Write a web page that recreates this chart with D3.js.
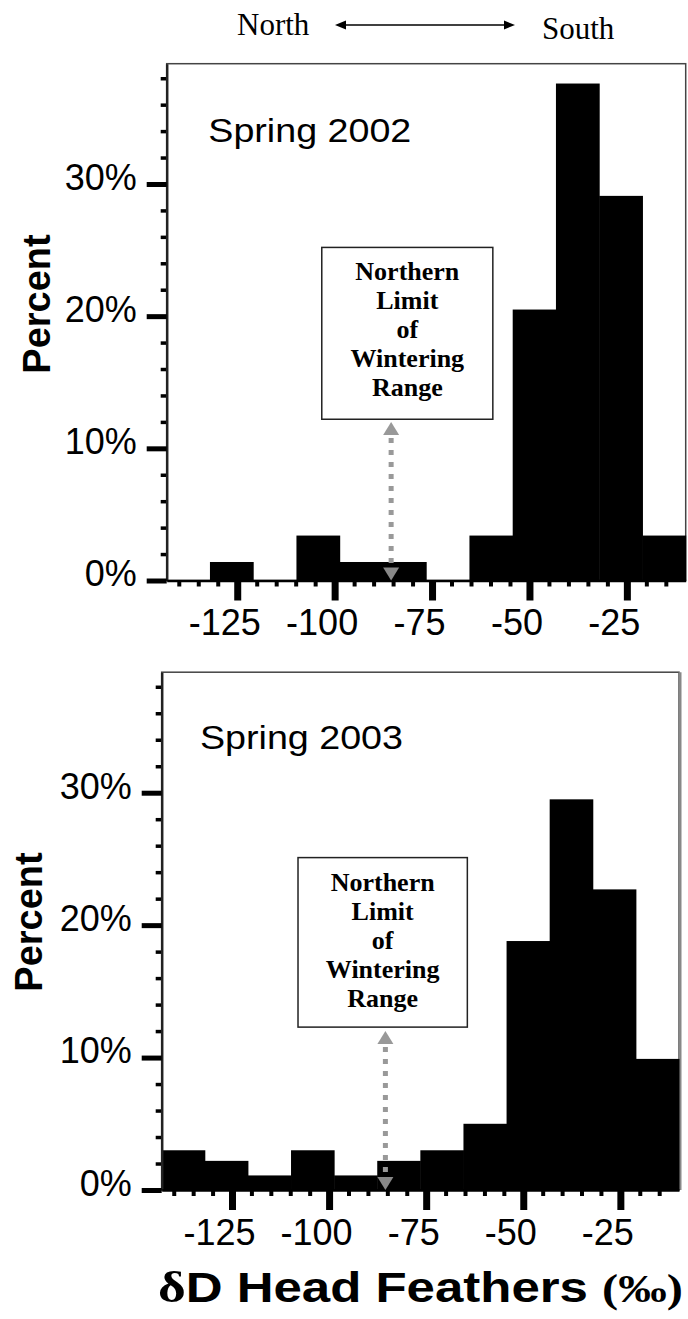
<!DOCTYPE html>
<html>
<head>
<meta charset="utf-8">
<script src="https://cdn.jsdelivr.net/npm/d3@7"></script>
<style>
  body { margin: 0; background: #fff; }
  svg { display: block; }
  .axis text { font-family: Arial, "Liberation Sans", sans-serif; font-size: 36px; fill: #000; }
  .panel-label { font-family: Arial, "Liberation Sans", sans-serif; font-size: 34px; }
  .y-title { font-family: Arial, "Liberation Sans", sans-serif; font-size: 38px; font-weight: bold; }
  .box-text { font-family: "Liberation Serif", "Times New Roman", serif; font-size: 26px; font-weight: bold; }
  .compass { font-family: "Liberation Serif", "Times New Roman", serif; font-size: 31px; }
</style>
</head>
<body>
<div id="chart"></div>
<script>
// Histogram bin edges (deltaD of head feathers, per mil)
var binEdges = [-143.1, -132, -120.9, -109.8, -98.7, -87.6, -76.5, -65.4, -54.3, -43.2, -32.1, -21, -9.9];

// Percent of birds per bin
var percent2002 = [0, 1.4, 0, 3.4, 1.4, 1.4, 0, 3.4, 20.5, 37.6, 29.1, 3.4];
var percent2003 = [3.0, 2.2, 1.1, 3.0, 1.1, 2.2, 3.0, 5.0, 18.8, 29.5, 22.7, 9.9];

// Tick labels
var xMajorTicks = [-125, -100, -75, -50, -25];
var xMinorTicks = [-140, -135, -130, -120, -115, -110, -105, -95, -90, -85, -80, -70, -65, -60, -55, -45, -40, -35, -30, -20, -15];
var yMajorTicks = [0, 10, 20, 30];
var yMinorTicks = [2, 4, 6, 8, 12, 14, 16, 18, 22, 24, 26, 28, 32, 34, 36, 38];

// Annotation
var limitLines = ["Northern", "Limit", "of", "Wintering", "Range"];
var limitValue = -85.5;
var limitTop = 12;

var width = 688;
var height = 1319;

var svg = d3
  .select("#chart")
  .append("svg")
  .attr("width", width)
  .attr("height", height);

var makeTranslate = (x, y) => `translate(${x},${y})`;

// Render one histogram panel.
function drawPanel(config) {
  var chartWidth = config.width;
  var chartHeight = config.height;

  var xScale = d3.scaleLinear().domain([binEdges[0], binEdges[binEdges.length - 1]]).range([0, chartWidth]);
  var yScale = d3.scaleLinear().domain([0, 39.1]).range([chartHeight, 0]);

  var chartElement = svg.append("g").attr("transform", makeTranslate(config.left, config.top));

  // frame
  chartElement
    .append("rect")
    .attr("width", chartWidth)
    .attr("height", chartHeight)
    .attr("fill", "none")
    .attr("stroke", "#444")
    .attr("stroke-width", 1.5);

  if (config.grayRight) {
    chartElement
      .append("line")
      .attr("x1", chartWidth + 1)
      .attr("x2", chartWidth + 1)
      .attr("y1", 0)
      .attr("y2", chartHeight)
      .attr("stroke", "#888")
      .attr("stroke-width", 3);
  }

  // bars
  chartElement
    .append("g")
    .attr("class", "bars")
    .selectAll("rect")
    .data(config.values)
    .enter()
    .append("rect")
    .attr("x", (d, i) => xScale(binEdges[i]))
    .attr("width", (d, i) => xScale(binEdges[i + 1]) - xScale(binEdges[i]) + 0.5)
    .attr("y", (d) => yScale(d))
    .attr("height", (d) => yScale(0) - yScale(d))
    .attr("fill", "#000");

  // Create D3 axes.
  var yAxis = d3
    .axisLeft(yScale)
    .tickValues(yMajorTicks)
    .tickSize(20)
    .tickSizeOuter(0)
    .tickPadding(10)
    .tickFormat((d) => d + "%");

  var yAxisMinor = d3.axisLeft(yScale).tickValues(yMinorTicks).tickSize(6).tickFormat("");

  var xAxis = d3
    .axisBottom(xScale)
    .tickValues(xMajorTicks)
    .tickSize(20)
    .tickSizeOuter(0)
    .tickPadding(9)
    .tickFormat((d) => d);

  var xAxisMinor = d3.axisBottom(xScale).tickValues(xMinorTicks).tickSize(6).tickFormat("");

  var yMinorElement = chartElement.append("g").attr("class", "y axis minor").call(yAxisMinor);
  yMinorElement.select(".domain").remove();
  yMinorElement.selectAll(".tick line").attr("stroke-width", 3.5);

  var yElement = chartElement.append("g").attr("class", "y axis").call(yAxis);
  yElement.select(".domain").attr("stroke", "#222").attr("stroke-width", 2.5);
  yElement.selectAll(".tick line").attr("stroke-width", 5);
  yElement.selectAll(".tick text").attr("dy", "0.15em");

  var xMinorElement = chartElement
    .append("g")
    .attr("class", "x axis minor")
    .attr("transform", makeTranslate(0, chartHeight))
    .call(xAxisMinor);
  xMinorElement.select(".domain").remove();
  xMinorElement.selectAll(".tick line").attr("stroke-width", 4);

  var xElement = chartElement
    .append("g")
    .attr("class", "x axis")
    .attr("transform", makeTranslate(0, chartHeight))
    .call(xAxis);
  xElement.select(".domain").attr("stroke-width", 2.5);
  xElement.selectAll(".tick line").attr("stroke-width", 7);
  xElement.selectAll(".tick text").attr("dx", -13);

  // y title
  chartElement
    .append("text")
    .attr("class", "y-title")
    .attr("transform", makeTranslate(config.titleX, config.titleY) + " rotate(-90)")
    .attr("text-anchor", "middle")
    .text("Percent");

  // panel label
  chartElement
    .append("text")
    .attr("class", "panel-label")
    .attr("x", config.labelX)
    .attr("y", config.labelY)
    .attr("textLength", 203)
    .attr("lengthAdjust", "spacingAndGlyphs")
    .text(config.label);

  // annotation box
  var box = config.box;
  var boxLeft = xScale(box[0]);
  var boxRight = xScale(box[1]);
  var boxTop = yScale(box[2]);
  var boxBottom = yScale(box[3]);

  chartElement
    .append("rect")
    .attr("x", boxLeft)
    .attr("y", boxTop)
    .attr("width", boxRight - boxLeft)
    .attr("height", boxBottom - boxTop)
    .attr("fill", "#fff")
    .attr("stroke", "#222")
    .attr("stroke-width", 1.5);

  chartElement
    .append("g")
    .selectAll("text")
    .data(limitLines)
    .enter()
    .append("text")
    .attr("class", "box-text")
    .attr("text-anchor", "middle")
    .attr("x", (boxLeft + boxRight) / 2)
    .attr("y", (d, i) => boxTop + 33 + i * 29)
    .text((d) => d);

  // dotted double arrow
  var ax = xScale(limitValue);
  var arrowTop = yScale(limitTop);
  var arrowBottom = yScale(0);
  var headLen = 13;
  var headHalf = 8;

  chartElement
    .append("line")
    .attr("x1", ax)
    .attr("x2", ax)
    .attr("y1", arrowTop + headLen + 3)
    .attr("y2", arrowBottom - headLen)
    .attr("stroke", "#999")
    .attr("stroke-width", 5)
    .attr("stroke-dasharray", "5,7");

  chartElement
    .append("path")
    .attr("d", `M${ax},${arrowTop}L${ax - headHalf},${arrowTop + headLen}L${ax + headHalf},${arrowTop + headLen}Z`)
    .attr("fill", "#999");

  chartElement
    .append("path")
    .attr("d", `M${ax},${arrowBottom}L${ax - headHalf},${arrowBottom - headLen}L${ax + headHalf},${arrowBottom - headLen}Z`)
    .attr("fill", "#888");
}

drawPanel({
  label: "Spring 2002",
  values: percent2002,
  left: 166.7,
  top: 63.7,
  width: 519,
  height: 516.8,
  box: [-103.3, -59.4, 25.2, 12.2],
  labelX: 41.6,
  labelY: 78.6,
  titleX: -116.7,
  titleY: 240.3,
  grayRight: false,
});

drawPanel({
  label: "Spring 2003",
  values: percent2003,
  left: 161.7,
  top: 672.2,
  width: 517.3,
  height: 517.8,
  box: [-108, -64.4, 25.1, 12.3],
  labelX: 38.3,
  labelY: 77,
  titleX: -119.7,
  titleY: 249.8,
  grayRight: true,
});

// North <-> South header
svg.append("text").attr("class", "compass").attr("x", 237).attr("y", 35).text("North");
svg.append("text").attr("class", "compass").attr("x", 542).attr("y", 39).text("South");

svg
  .append("line")
  .attr("x1", 343)
  .attr("x2", 507)
  .attr("y1", 25)
  .attr("y2", 25)
  .attr("stroke", "#000")
  .attr("stroke-width", 1.5);

svg.append("path").attr("d", "M335,25L346,20.5L346,29.5Z").attr("fill", "#000");
svg.append("path").attr("d", "M515,25L504,20.5L504,29.5Z").attr("fill", "#000");

// x title
var xTitle = svg
  .append("text")
  .attr("x", 158)
  .attr("y", 1302)
  .attr("textLength", 525)
  .attr("lengthAdjust", "spacingAndGlyphs");

xTitle
  .append("tspan")
  .style("font-family", "'Liberation Serif', serif")
  .style("font-size", "44px")
  .style("font-weight", "bold")
  .text("δ");

xTitle
  .append("tspan")
  .style("font-family", "Arial, 'Liberation Sans', sans-serif")
  .style("font-size", "42px")
  .style("font-weight", "bold")
  .text("D Head Feathers ");

xTitle
  .append("tspan")
  .style("font-family", "'Liberation Serif', serif")
  .style("font-size", "40px")
  .style("font-weight", "bold")
  .text("(‰)");
</script>
</body>
</html>
